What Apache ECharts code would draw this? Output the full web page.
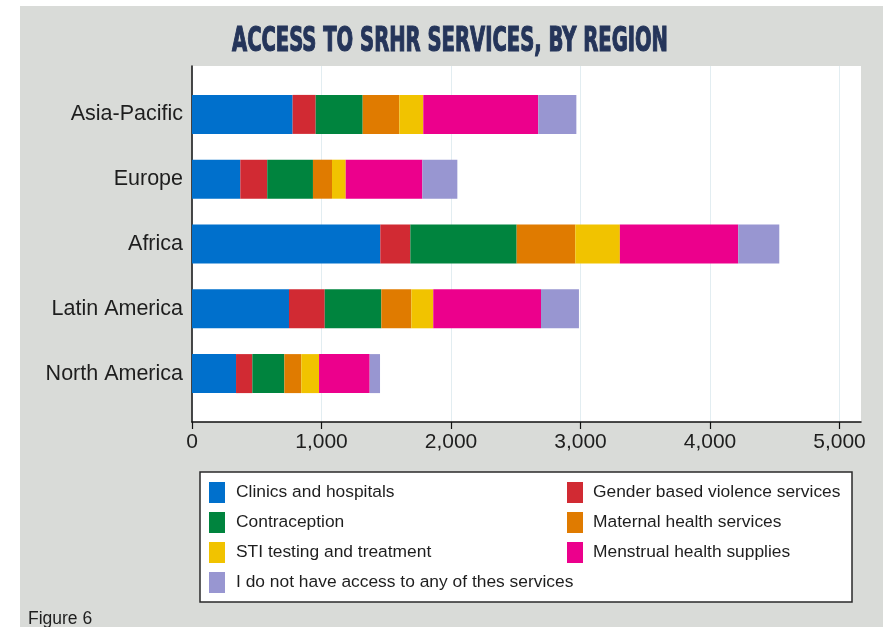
<!DOCTYPE html>
<html>
<head>
<meta charset="utf-8">
<title>Access to SRHR services, by region</title>
<script src="https://cdn.jsdelivr.net/npm/echarts@6/dist/echarts.min.js"></script>
<style>
  html, body { margin: 0; padding: 0; background: #ffffff; }
  #chart { width: 883px; height: 627px; }
</style>
</head>
<body>
<div id="chart"></div>
<script>
// Regions (top to bottom) and respondents per service type
const regions = ['Asia-Pacific', 'Europe', 'Africa', 'Latin America', 'North America'];
const clinics = [777, 373, 1454, 749, 340];
const gbv = [178, 208, 232, 276, 126];
const contraception = [363, 353, 821, 437, 247];
const maternal = [283, 147, 453, 232, 131];
const sti = [185, 106, 344, 169, 137];
const menstrual = [888, 592, 914, 832, 391];
const noAccess = [294, 270, 317, 293, 80];
const xTicks = [0, 1000, 2000, 3000, 4000, 5000];

const seriesDefs = [
  { name: 'Clinics and hospitals', data: clinics, color: '#0070cc' },
  { name: 'Gender based violence services', data: gbv, color: '#d12a33' },
  { name: 'Contraception', data: contraception, color: '#00843e' },
  { name: 'Maternal health services', data: maternal, color: '#e07b00' },
  { name: 'STI testing and treatment', data: sti, color: '#f1c300' },
  { name: 'Menstrual health supplies', data: menstrual, color: '#ec008c' },
  { name: 'I do not have access to any of thes services', data: noAccess, color: '#9896d1' }
];

const titleText = 'ACCESS TO SRHR SERVICES, BY REGION';
const titleFont = 'bold 33px "Liberation Sans Narrow", "DejaVu Sans Condensed", "Liberation Sans", sans-serif';
const measure = document.createElement('canvas').getContext('2d');
measure.font = titleFont;
const titleScale = 436 / measure.measureText(titleText).width;

const X_MAX = 5166;
const fmt = v => v.toLocaleString('en-US');
const txt = '#1e1e1e';
const sansFont = '"Liberation Sans", Arial, Helvetica, sans-serif';

const chart = echarts.init(document.getElementById('chart'), null, { renderer: 'canvas' });

chart.setOption({
  backgroundColor: '#ffffff',
  animation: false,
  graphic: [
    { type: 'rect', z: -10, shape: { x: 20, y: 6, width: 863, height: 621 }, style: { fill: '#d9dbd8' } },
    {
      type: 'text', x: 450, y: 42, scaleX: titleScale, z: 10,
      style: {
        text: titleText, font: titleFont, fill: '#25355a',
        stroke: '#25355a', lineWidth: 1.2,
        textAlign: 'center', textVerticalAlign: 'middle'
      }
    },
    {
      type: 'rect', z: 1, shape: { x: 200, y: 472, width: 652, height: 130 },
      style: { fill: '#ffffff', stroke: '#2a2a2a', lineWidth: 1.5 }
    },
    {
      type: 'text', x: 28, y: 619, z: 10,
      style: { text: 'Figure 6', font: '17.5px ' + sansFont, fill: txt, textVerticalAlign: 'middle' }
    }
  ],
  grid: [
    { left: 192, top: 66, width: 669, height: 356, show: true, backgroundColor: '#ffffff', borderWidth: 0 },
    { left: 192, top: 82, width: 669, height: 324, show: false }
  ],
  xAxis: [
    {
      type: 'value', gridIndex: 0, min: 0, max: X_MAX,
      axisLine: { show: true, lineStyle: { color: '#111', width: 1.5 } },
      axisTick: { show: true, length: 7, customValues: xTicks, lineStyle: { color: '#111', width: 1.2 } },
      axisLabel: { customValues: xTicks, formatter: fmt, fontSize: 21, color: txt, margin: 10, fontFamily: sansFont },
      splitLine: { show: true, lineStyle: { color: '#e2edf1', width: 1 } }
    },
    { type: 'value', gridIndex: 1, min: 0, max: X_MAX, show: false }
  ],
  yAxis: [
    {
      type: 'value', gridIndex: 0, min: 0, max: 1,
      axisLine: { show: true, lineStyle: { color: '#111', width: 1.5 } },
      axisTick: { show: false }, axisLabel: { show: false }, splitLine: { show: false }
    },
    {
      type: 'category', gridIndex: 1, data: regions, inverse: true,
      axisLine: { show: false }, axisTick: { show: false },
      axisLabel: { fontSize: 21.5, color: txt, margin: 9, fontFamily: sansFont }
    }
  ],
  legend: [
    {
      orient: 'vertical', left: 209, top: 482, padding: 0, itemGap: 9,
      itemWidth: 16, itemHeight: 21, icon: 'rect', z: 5,
      data: [seriesDefs[0].name, seriesDefs[2].name, seriesDefs[4].name, seriesDefs[6].name],
      textStyle: { fontSize: 17.4, color: txt, fontFamily: sansFont, padding: [0, 0, 0, 6] },
      selectedMode: false
    },
    {
      orient: 'vertical', left: 567, top: 482, padding: 0, itemGap: 9,
      itemWidth: 16, itemHeight: 21, icon: 'rect', z: 5,
      data: [seriesDefs[1].name, seriesDefs[3].name, seriesDefs[5].name],
      textStyle: { fontSize: 17.4, color: txt, fontFamily: sansFont, padding: [0, 0, 0, 5] },
      selectedMode: false
    }
  ],
  series: seriesDefs.map(s => ({
    name: s.name,
    type: 'bar',
    xAxisIndex: 1,
    yAxisIndex: 1,
    stack: 'total',
    barWidth: 39,
    data: s.data,
    itemStyle: { color: s.color },
    emphasis: { disabled: true }
  }))
});
</script>
</body>
</html>
